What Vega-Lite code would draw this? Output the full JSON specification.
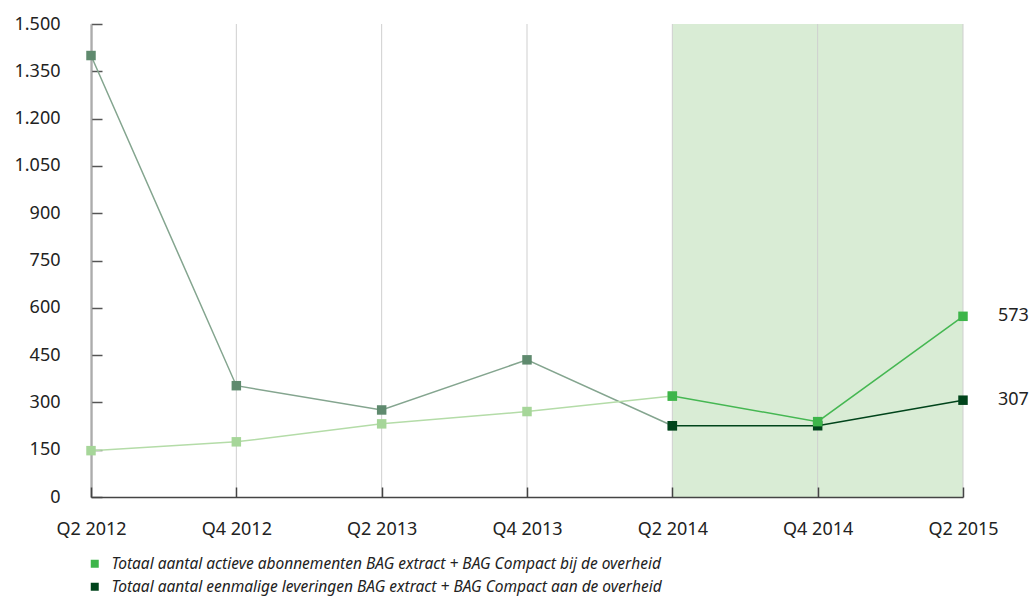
{
  "$schema": "https://vega.github.io/schema/vega-lite/v6.json",
  "width": 872,
  "height": 473,
  "autosize": "none",
  "padding": {"left": 91, "top": 24, "right": 70, "bottom": 99},
  "config": {"font": "Noto Sans", "view": {"stroke": null}},
  "datasets": {
    "reeksen": [
      {"q": "Q2 2012", "reeks": "Eenmalige leveringen (t/m Q2 2014)", "v": 1400},
      {"q": "Q4 2012", "reeks": "Eenmalige leveringen (t/m Q2 2014)", "v": 353},
      {"q": "Q2 2013", "reeks": "Eenmalige leveringen (t/m Q2 2014)", "v": 276},
      {"q": "Q4 2013", "reeks": "Eenmalige leveringen (t/m Q2 2014)", "v": 435},
      {"q": "Q2 2014", "reeks": "Eenmalige leveringen (t/m Q2 2014)", "v": 226},
      {"q": "Q2 2012", "reeks": "Actieve abonnementen (t/m Q2 2014)", "v": 147},
      {"q": "Q4 2012", "reeks": "Actieve abonnementen (t/m Q2 2014)", "v": 175},
      {"q": "Q2 2013", "reeks": "Actieve abonnementen (t/m Q2 2014)", "v": 232},
      {"q": "Q4 2013", "reeks": "Actieve abonnementen (t/m Q2 2014)", "v": 271},
      {"q": "Q2 2014", "reeks": "Actieve abonnementen (t/m Q2 2014)", "v": 320},
      {"q": "Q2 2014", "reeks": "Totaal aantal eenmalige leveringen BAG extract + BAG Compact aan de overheid", "v": 226},
      {"q": "Q4 2014", "reeks": "Totaal aantal eenmalige leveringen BAG extract + BAG Compact aan de overheid", "v": 226},
      {"q": "Q2 2015", "reeks": "Totaal aantal eenmalige leveringen BAG extract + BAG Compact aan de overheid", "v": 307},
      {"q": "Q2 2014", "reeks": "Totaal aantal actieve abonnementen BAG extract + BAG Compact bij de overheid", "v": 320},
      {"q": "Q4 2014", "reeks": "Totaal aantal actieve abonnementen BAG extract + BAG Compact bij de overheid", "v": 239},
      {"q": "Q2 2015", "reeks": "Totaal aantal actieve abonnementen BAG extract + BAG Compact bij de overheid", "v": 573}
    ],
    "periode": [{"van": "Q2 2014", "tot": "Q2 2015"}],
    "kwartalen": [
      {"q": "Q2 2012"}, {"q": "Q4 2012"}, {"q": "Q2 2013"}, {"q": "Q4 2013"},
      {"q": "Q2 2014"}, {"q": "Q4 2014"}, {"q": "Q2 2015"}
    ]
  },
  "layer": [
    {
      "data": {"name": "periode"},
      "mark": {"type": "rect", "color": "#d9ecd5"},
      "encoding": {
        "x": {
          "field": "van", "type": "ordinal",
          "scale": {"type": "point", "padding": 0, "domain": ["Q2 2012", "Q4 2012", "Q2 2013", "Q4 2013", "Q2 2014", "Q4 2014", "Q2 2015"]},
          "axis": {
            "title": null, "labelAngle": 0, "labelFontSize": 18, "labelColor": "#222",
            "domainColor": "#444", "domainWidth": 1.5, "tickColor": "#444", "tickWidth": 1.5,
            "tickSize": -10, "labelPadding": 33, "grid": false, "zindex": 1
          }
        },
        "x2": {"field": "tot"}
      }
    },
    {
      "data": {"name": "kwartalen"},
      "mark": {"type": "rule", "color": "#cfcfcf", "strokeWidth": 1},
      "encoding": {"x": {"field": "q", "type": "ordinal"}}
    },
    {
      "data": {"name": "reeksen"},
      "mark": {"type": "line", "strokeWidth": 1.5},
      "encoding": {
        "x": {"field": "q", "type": "ordinal"},
        "y": {
          "field": "v", "type": "quantitative",
          "scale": {"domain": [0, 1500], "nice": false},
          "axis": {
            "title": null, "values": [0, 150, 300, 450, 600, 750, 900, 1050, 1200, 1350, 1500],
            "labelExpr": "replace(format(datum.value, ','), ',', '.')",
            "labelFontSize": 18, "labelColor": "#222", "grid": false,
            "domainColor": "#888", "domainWidth": 2, "tickColor": "#555", "tickWidth": 1.5,
            "tickSize": -11, "labelPadding": 42
          }
        },
        "stroke": {
          "field": "reeks", "type": "nominal",
          "scale": {
            "domain": [
              "Eenmalige leveringen (t/m Q2 2014)",
              "Actieve abonnementen (t/m Q2 2014)",
              "Totaal aantal eenmalige leveringen BAG extract + BAG Compact aan de overheid",
              "Totaal aantal actieve abonnementen BAG extract + BAG Compact bij de overheid"
            ],
            "range": ["#84a58f", "#b4dca8", "#00441b", "#45b752"]
          },
          "legend": {
            "values": [
              "Totaal aantal actieve abonnementen BAG extract + BAG Compact bij de overheid",
              "Totaal aantal eenmalige leveringen BAG extract + BAG Compact aan de overheid"
            ],
            "title": null, "orient": "none", "legendX": -4, "legendY": 532,
            "symbolType": "square", "symbolSize": 64, "symbolStrokeWidth": 0,
            "labelFontSize": 15.5, "labelFontStyle": "italic", "labelColor": "#222",
            "labelLimit": 800, "rowPadding": 6, "labelOffset": 9
          }
        }
      }
    },
    {
      "data": {"name": "reeksen"},
      "mark": {"type": "point", "shape": "square", "filled": true, "size": 90, "opacity": 1, "strokeWidth": 0},
      "encoding": {
        "x": {"field": "q", "type": "ordinal"},
        "y": {"field": "v", "type": "quantitative"},
        "fill": {
          "field": "reeks", "type": "nominal",
          "scale": {
            "domain": [
              "Eenmalige leveringen (t/m Q2 2014)",
              "Actieve abonnementen (t/m Q2 2014)",
              "Totaal aantal eenmalige leveringen BAG extract + BAG Compact aan de overheid",
              "Totaal aantal actieve abonnementen BAG extract + BAG Compact bij de overheid"
            ],
            "range": ["#5f8a6e", "#a6d699", "#00441b", "#3db54a"]
          },
          "legend": {
            "values": [
              "Totaal aantal actieve abonnementen BAG extract + BAG Compact bij de overheid",
              "Totaal aantal eenmalige leveringen BAG extract + BAG Compact aan de overheid"
            ],
            "title": null, "orient": "none", "legendX": -4, "legendY": 532,
            "symbolType": "square", "symbolSize": 64, "symbolStrokeWidth": 0,
            "labelFontSize": 15.5, "labelFontStyle": "italic", "labelColor": "#222",
            "labelLimit": 800, "rowPadding": 6, "labelOffset": 9
          }
        }
      }
    },
    {
      "data": {"name": "reeksen"},
      "transform": [{"filter": "datum.q == 'Q2 2015'"}],
      "mark": {"type": "text", "align": "left", "dx": 35, "fontSize": 18, "color": "#222"},
      "encoding": {
        "x": {"field": "q", "type": "ordinal"},
        "y": {"field": "v", "type": "quantitative"},
        "text": {"field": "v", "type": "quantitative"}
      }
    }
  ]
}
